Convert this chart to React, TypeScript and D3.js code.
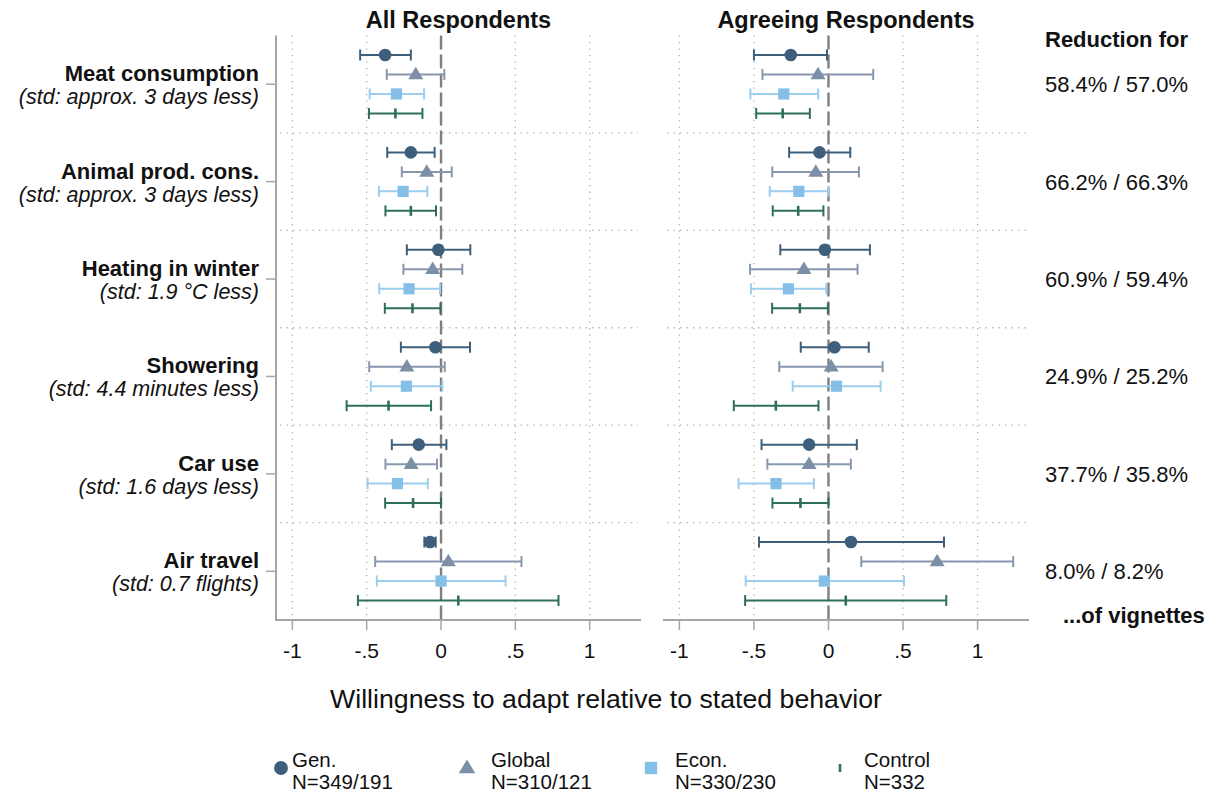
import React from "react";
import * as d3 from "d3";

// Categories (rows) and their labels
const categories = ["Meat consumption", "Animal prod. cons.", "Heating in winter", "Showering", "Car use", "Air travel"];
const stdLabels = [
  "(std: approx. 3 days less)",
  "(std: approx. 3 days less)",
  "(std: 1.9 °C less)",
  "(std: 4.4 minutes less)",
  "(std: 1.6 days less)",
  "(std: 0.7 flights)",
];
const reductions = ["58.4% / 57.0%", "66.2% / 66.3%", "60.9% / 59.4%", "24.9% / 25.2%", "37.7% / 35.8%", "8.0% / 8.2%"];

const treatments = ["Gen.", "Global", "Econ.", "Control"];
const legendN = ["N=349/191", "N=310/121", "N=330/230", "N=332"];
const panelTitles = ["All Respondents", "Agreeing Respondents"];
const xTicks = [-1, -0.5, 0, 0.5, 1];
const xTickLabels = ["-1", "-.5", "0", ".5", "1"];

// All respondents
const allGen = [-0.376, -0.203, -0.018, -0.038, -0.15, -0.074];
const allGenLo = [-0.544, -0.362, -0.23, -0.27, -0.331, -0.112];
const allGenHi = [-0.203, -0.043, 0.197, 0.195, 0.036, -0.036];
const allGlobal = [-0.17, -0.096, -0.056, -0.23, -0.201, 0.049];
const allGlobalLo = [-0.365, -0.264, -0.253, -0.483, -0.374, -0.443];
const allGlobalHi = [0.022, 0.072, 0.143, 0.025, -0.027, 0.541];
const allEcon = [-0.3, -0.255, -0.215, -0.233, -0.293, 0.0];
const allEconLo = [-0.48, -0.418, -0.416, -0.472, -0.494, -0.432];
const allEconHi = [-0.114, -0.092, -0.007, 0.009, -0.089, 0.434];
const control = [-0.307, -0.203, -0.192, -0.353, -0.188, 0.116];
const controlLo = [-0.485, -0.374, -0.378, -0.635, -0.376, -0.559];
const controlHi = [-0.125, -0.034, -0.004, -0.067, 0.0, 0.79];

// Agreeing respondents
const agrGen = [-0.253, -0.06, -0.024, 0.04, -0.13, 0.151];
const agrGenLo = [-0.5, -0.264, -0.323, -0.186, -0.449, -0.466];
const agrGenHi = [-0.01, 0.146, 0.278, 0.27, 0.19, 0.775];
const agrGlobal = [-0.07, -0.085, -0.165, 0.018, -0.13, 0.729];
const agrGlobalLo = [-0.443, -0.377, -0.526, -0.33, -0.41, 0.22];
const agrGlobalHi = [0.3, 0.204, 0.195, 0.363, 0.15, 1.239];
const agrEcon = [-0.3, -0.199, -0.269, 0.054, -0.352, -0.027];
const agrEconLo = [-0.524, -0.394, -0.52, -0.24, -0.603, -0.555];
const agrEconHi = [-0.069, 0.0, -0.015, 0.35, -0.098, 0.507];

const colors = ["#3d5f7b", "#7b8fa7", "#85bfe8", "#2f6e5e"];
const ciColors = ["#3d5f7b", "#8798ae", "#9dcdef", "#2f6e5e"];

const FONT = "'Liberation Sans', Arial, sans-serif";

type Series = { est: number[]; lo: number[]; hi: number[] };

const panels: { title: string; x0: number; x1: number; axisLeft: boolean; series: Series[] }[] = [
  {
    title: panelTitles[0], x0: 276, x1: 641, axisLeft: true,
    series: [
      { est: allGen, lo: allGenLo, hi: allGenHi },
      { est: allGlobal, lo: allGlobalLo, hi: allGlobalHi },
      { est: allEcon, lo: allEconLo, hi: allEconHi },
      { est: control, lo: controlLo, hi: controlHi },
    ],
  },
  {
    title: panelTitles[1], x0: 663, x1: 1029, axisLeft: false,
    series: [
      { est: agrGen, lo: agrGenLo, hi: agrGenHi },
      { est: agrGlobal, lo: agrGlobalLo, hi: agrGlobalHi },
      { est: agrEcon, lo: agrEconLo, hi: agrEconHi },
      { est: control, lo: controlLo, hi: controlHi },
    ],
  },
];

const top = 35.5;
const bottom = 620;
const y = d3.scaleLinear().domain([0, categories.length * 5]).range([top, bottom]);

function Marker({ kind, cx, cy, color, size = 1 }: { kind: number; cx: number; cy: number; color: string; size?: number }) {
  if (kind === 0) return <circle cx={cx} cy={cy} r={6.3 * size} fill={color} />;
  if (kind === 1) {
    const w = 7.5 * size;
    const h = 12.5 * size;
    return <path d={`M${cx},${cy - h * 0.62}L${cx + w},${cy + h * 0.38}L${cx - w},${cy + h * 0.38}Z`} fill={color} />;
  }
  if (kind === 2) {
    const s = 5.6 * size;
    return <rect x={cx - s} y={cy - s} width={2 * s} height={2 * s} fill={color} />;
  }
  return <line x1={cx} x2={cx} y1={cy - 5 * size} y2={cy + 5 * size} stroke={color} strokeWidth={2.6} />;
}

export default function App() {
  return (
    <svg width={1214} height={794} style={{ display: "block", position: "absolute", left: 0, top: 0 }} fontFamily={FONT}>
      <rect width={1214} height={794} fill="#fff" />
      {panels.map((p, pi) => {
        const x = d3.scaleLinear().domain([-1.11, 1.345]).range([p.x0, p.x1]);
        return (
          <g key={pi}>
            {/* vertical grid */}
            {xTicks.filter((t) => t !== 0).map((t) => (
              <line key={t} x1={x(t)} x2={x(t)} y1={top} y2={bottom} stroke="#b0b0b0" strokeWidth={1.3} strokeDasharray="1.3 5.2" />
            ))}
            {/* horizontal separators */}
            {d3.range(1, categories.length).map((i) => (
              <line key={i} x1={p.x0 + 4} x2={p.x1 - 3} y1={y(i * 5)} y2={y(i * 5)} stroke="#b0b0b0" strokeWidth={1.3} strokeDasharray="1.3 5.2" />
            ))}
            {/* zero line */}
            <line x1={x(0)} x2={x(0)} y1={top} y2={bottom} stroke="#7f7f7f" strokeWidth={2.4} strokeDasharray="14 5" />
            {/* data */}
            {p.series.map((s, si) =>
              categories.map((_, ci) => {
                const cy = y(ci * 5 + si + 1);
                return (
                  <g key={`${si}-${ci}`}>
                    <line x1={x(s.lo[ci])} x2={x(s.hi[ci])} y1={cy} y2={cy} stroke={ciColors[si]} strokeWidth={2} />
                    <line x1={x(s.lo[ci])} x2={x(s.lo[ci])} y1={cy - 5.5} y2={cy + 5.5} stroke={ciColors[si]} strokeWidth={2} />
                    <line x1={x(s.hi[ci])} x2={x(s.hi[ci])} y1={cy - 5.5} y2={cy + 5.5} stroke={ciColors[si]} strokeWidth={2} />
                    <Marker kind={si} cx={x(s.est[ci])} cy={cy} color={colors[si]} />
                  </g>
                );
              })
            )}
            {/* axes */}
            {p.axisLeft && (
              <g>
                <line x1={p.x0} x2={p.x0} y1={top} y2={bottom + 1} stroke="#a6a6a6" strokeWidth={2} />
                {categories.map((_, ci) => (
                  <line key={ci} x1={p.x0 - 10} x2={p.x0} y1={y(ci * 5 + 2.5)} y2={y(ci * 5 + 2.5)} stroke="#a6a6a6" strokeWidth={1.5} />
                ))}
              </g>
            )}
            <line x1={p.x0} x2={p.x1} y1={bottom} y2={bottom} stroke="#a6a6a6" strokeWidth={2} />
            {xTicks.map((t, ti) => (
              <g key={t}>
                <line x1={x(t)} x2={x(t)} y1={bottom} y2={bottom + 10} stroke="#a6a6a6" strokeWidth={1.5} />
                <text x={x(t)} y={658} textAnchor="middle" fontSize={21} fill="#111">
                  {xTickLabels[ti]}
                </text>
              </g>
            ))}
            <text x={(p.x0 + p.x1) / 2} y={28} textAnchor="middle" fontSize={23.5} fontWeight="bold" fill="#111">
              {p.title}
            </text>
          </g>
        );
      })}

      {/* row labels */}
      {categories.map((c, ci) => {
        const cy = y(ci * 5 + 2.5);
        return (
          <g key={c}>
            <text x={259} y={cy - 3} textAnchor="end" fontSize={22} fontWeight="bold" fill="#111">
              {c}
            </text>
            <text x={259} y={cy + 20} textAnchor="end" fontSize={21.5} fontStyle="italic" fill="#111">
              {stdLabels[ci]}
            </text>
            <text x={1045} y={cy + 8} fontSize={22} fill="#111">
              {reductions[ci]}
            </text>
          </g>
        );
      })}
      <text x={1045} y={47} fontSize={22} fontWeight="bold" fill="#111">Reduction for</text>
      <text x={1063} y={623} fontSize={22} fontWeight="bold" fill="#111">...of vignettes</text>

      {/* axis title */}
      <text x={606} y={708} textAnchor="middle" fontSize={26.7} fill="#111">
        Willingness to adapt relative to stated behavior
      </text>

      {/* legend */}
      {treatments.map((t, ti) => {
        const lx = [281, 467, 651, 840][ti];
        const tx = lx + (ti === 0 ? 11 : 24);
        return (
          <g key={t}>
            <Marker kind={ti} cx={lx} cy={768} color={colors[ti]} size={ti === 3 ? 0.8 : 1.1} />
            <text x={tx} y={767} fontSize={20.5} fill="#111">{t}</text>
            <text x={tx} y={789} fontSize={20.5} fill="#111">{legendN[ti]}</text>
          </g>
        );
      })}
    </svg>
  );
}
